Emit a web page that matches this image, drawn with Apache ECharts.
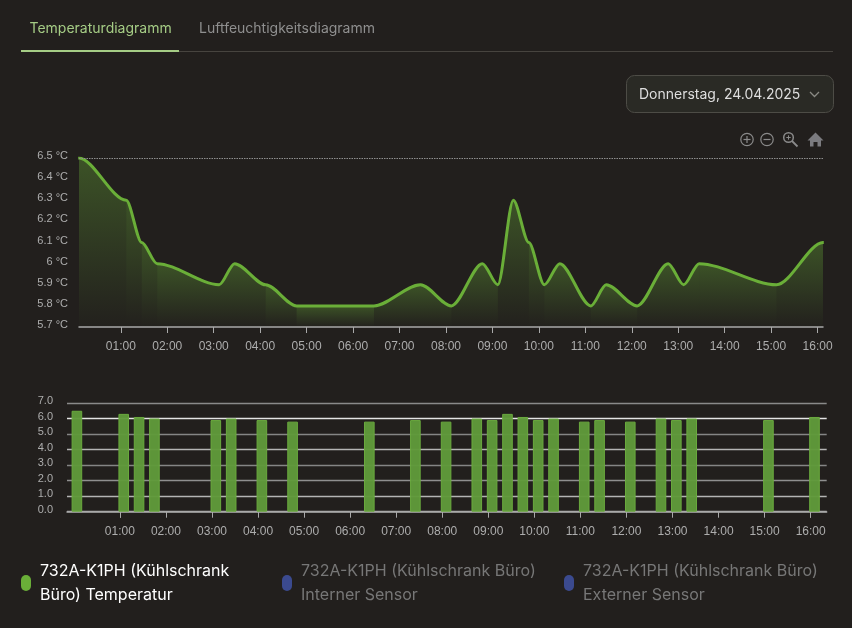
<!DOCTYPE html>
<html><head><meta charset="utf-8">
<style>html,body{margin:0;padding:0;background:#221f1d}#c{width:852px;height:628px}</style>
<script src="https://cdn.jsdelivr.net/npm/echarts@6/dist/echarts.min.js"></script>
</head><body><div id="c"></div>
<script>
const timeLabels = ['00:06','01:07','01:27','01:47','03:07','03:27','04:07','04:47','06:27','07:27','08:07','08:47','09:07','09:27','09:47','10:07','10:27','11:07','11:27','12:07','12:47','13:07','13:27','15:07','16:07'];
const temperatures = [6.5,6.3,6.1,6.0,5.9,6.0,5.9,5.8,5.8,5.9,5.8,6.0,5.9,6.3,6.1,5.9,6.0,5.8,5.9,5.8,6.0,5.9,6.0,5.9,6.1];
const shadeBreaks = [0,1,2,3,6,7,8,10,12,14,15,17,19,22,23,24];
const hourTicks = [1,2,3,4,5,6,7,8,9,10,11,12,13,14,15,16];
const barShiftMinutes = 2;
const seriesNames = ['732A-K1PH (Kühlschrank\nBüro) Temperatur','732A-K1PH (Kühlschrank Büro)\nInterner Sensor','732A-K1PH (Kühlschrank Büro)\nExterner Sensor'];
const tabLabels = ['Temperaturdiagramm','Luftfeuchtigkeitsdiagramm'];
const dateLabel = 'Donnerstag, 24.04.2025';

const GREEN='#6aae38', BLUE='#3b4a8f', BG='#221f1d', AXIS='#a9a9a9', LABEL='#adadad', SMOOTH=0.3;
const at=(h,m)=>new Date(2025,3,24,h,m).getTime();
const times=timeLabels.map(s=>{const p=s.split(':');return at(+p[0],+p[1]);});
const ticks=hourTicks.map(h=>at(h,0));
const pad=n=>String(n).padStart(2,'0');
const fmt=v=>{const d=new Date(v);return (d.getMinutes()===0&&d.getDate()===24&&d.getHours()>0)?pad(d.getHours())+':00':'';};
const Y_MIN=5.7;
const bands=shadeBreaks.slice(0,-1).map((s,i)=>[times[s],temperatures[s],s,shadeBreaks[i+1]]);
const n=times.length;
// the first and last readings are repeated just outside the clipped axis so the curve ends level
const linePoints=[[times[0]-60000,temperatures[0]]].concat(times.map((t,i)=>[t,temperatures[i]]),[[times[n-1]+60000,temperatures[n-1]]]);

const capsule='path://M5,0 A5,5 0 0 1 10,5 L10,11 A5,5 0 0 1 0,11 L0,5 A5,5 0 0 1 5,0 Z';
function legendAt(name,left,color){
  return {show:true,data:[name],left:left,top:559,padding:0,itemWidth:10,itemHeight:16,selectedMode:false,icon:capsule,
    textStyle:{color:color,fontFamily:'Inter',fontSize:16,lineHeight:24,padding:[0,0,0,4]}};
}
function timeAxis(idx,min,max){
  return {type:'time',gridIndex:idx,min:min,max:max,minInterval:3600000,maxInterval:3600000,
    axisLine:{show:true,lineStyle:{color:AXIS,width:1.5}},
    axisTick:{show:true,length:6,customValues:ticks,lineStyle:{color:AXIS,width:1}},
    axisLabel:{formatter:fmt,showMinLabel:false,showMaxLabel:false,hideOverlap:false,color:LABEL,fontFamily:'Liberation Sans',fontSize:12,margin:14},
    splitLine:{show:false}};
}
function renderBand(params,api){
  const s=api.value(2),e=api.value(3);
  let d='';
  for(let i=s;i<e;i++){
    const a=api.coord([times[i],temperatures[i]]),b=api.coord([times[i+1],temperatures[i+1]]);
    if(i===s)d+='M'+a[0]+' '+a[1];
    const mx=(b[0]-a[0])*SMOOTH;
    d+='C'+(a[0]+mx)+' '+a[1]+' '+(b[0]-mx)+' '+b[1]+' '+b[0]+' '+b[1];
  }
  const x0=api.coord([times[s],Y_MIN]),x1=api.coord([times[e],Y_MIN]);
  d+='L'+x1[0]+' '+x1[1]+'L'+x0[0]+' '+x0[1]+'Z';
  return {type:'path',shape:{pathData:d},style:{fill:new echarts.graphic.LinearGradient(0,0,0,1,[
    {offset:0,color:'rgba(106,174,56,0.36)'},{offset:1,color:'rgba(106,174,56,0.01)'}]),stroke:null}};
}
const iconColor='#8a8a8a';
const graphics=[
  {type:'text',left:29.5,top:22,style:{text:tabLabels[0],font:'14px Inter',fill:'#a5cc85'}},
  {type:'text',left:199,top:22,style:{text:tabLabels[1],font:'14px Inter',fill:'#8f8f8f'}},
  {type:'rect',shape:{x:21,y:51,width:812,height:1},style:{fill:'#47443f'}},
  {type:'rect',shape:{x:21,y:50,width:158,height:2},style:{fill:'#a5cc85'}},
  {type:'rect',shape:{x:626.5,y:75.5,width:207,height:37,r:8},style:{fill:'#2a2a25',stroke:'#4d4c46',lineWidth:1}},
  {type:'text',left:639,top:88,style:{text:dateLabel,font:'14px Inter',fill:'#dedede'}},
  {type:'polyline',shape:{points:[[810,92],[814.5,96.5],[819,92]]},style:{stroke:'#8a8a84',lineWidth:1.3,fill:null}},
  {type:'circle',shape:{cx:747,cy:139.5,r:6.2},style:{stroke:iconColor,lineWidth:1.2,fill:null}},
  {type:'line',shape:{x1:743.5,y1:139.5,x2:750.5,y2:139.5},style:{stroke:iconColor,lineWidth:1.2}},
  {type:'line',shape:{x1:747,y1:136,x2:747,y2:143},style:{stroke:iconColor,lineWidth:1.2}},
  {type:'circle',shape:{cx:767,cy:139.5,r:6.2},style:{stroke:iconColor,lineWidth:1.2,fill:null}},
  {type:'line',shape:{x1:763.5,y1:139.5,x2:770.5,y2:139.5},style:{stroke:iconColor,lineWidth:1.2}},
  {type:'circle',shape:{cx:788.5,cy:137.5,r:4.8},style:{stroke:iconColor,lineWidth:1.5,fill:null}},
  {type:'line',shape:{x1:792,y1:141,x2:797.5,y2:146.5},style:{stroke:iconColor,lineWidth:1.8}},
  {type:'line',shape:{x1:786.3,y1:137.5,x2:790.7,y2:137.5},style:{stroke:iconColor,lineWidth:1}},
  {type:'line',shape:{x1:788.5,y1:135.3,x2:788.5,y2:139.7},style:{stroke:iconColor,lineWidth:1}},
  {type:'polygon',shape:{points:[[815.5,132.5],[823.5,140.5],[821,140.5],[821,146.5],[817.5,146.5],[817.5,142],[813.5,142],[813.5,146.5],[810,146.5],[810,140.5],[807.5,140.5]]},style:{fill:'#7b7b7f'}}
];
const option={
  backgroundColor:BG,animation:false,
  legend:[legendAt(seriesNames[0],21,'#ffffff'),legendAt(seriesNames[1],282,'#777777'),legendAt(seriesNames[2],564,'#777777')],
  grid:[{left:79,right:29,top:158,height:169},{left:67,right:25.3,top:403,height:108.7}],
  xAxis:[timeAxis(0,at(0,6),at(16,7)),timeAxis(1,new Date(2025,3,23,23,58).getTime(),at(16,14))],
  yAxis:[
    {type:'value',gridIndex:0,min:Y_MIN,max:6.5,interval:0.1,axisLine:{show:false},axisTick:{show:false},splitLine:{show:false},
     axisLabel:{color:LABEL,fontFamily:'Liberation Sans',fontSize:11,margin:11,verticalAlign:'bottom',lineHeight:4,formatter:v=>(+v.toFixed(1))+' °C'}},
    {type:'value',gridIndex:1,min:0,max:7,interval:1,axisLine:{show:false},axisTick:{show:false},
     splitLine:{show:true,lineStyle:{width:1.4,color:['#a9a9a9','#b4b4b4','#8f8f8f','#858585','#b4b4b4','#858585','#e4e4e4','#8a8a8a']}},
     axisLabel:{color:LABEL,fontFamily:'Liberation Sans',fontSize:11,margin:14,verticalAlign:'bottom',lineHeight:4,formatter:v=>v.toFixed(1)}}
  ],
  series:[
    {type:'custom',name:'Fläche',xAxisIndex:0,yAxisIndex:0,z:1,silent:true,renderItem:renderBand,data:bands,encode:{x:0,y:1}},
    {type:'line',name:seriesNames[0],xAxisIndex:0,yAxisIndex:0,z:3,smooth:SMOOTH,smoothMonotone:'x',showSymbol:false,
     lineStyle:{color:GREEN,width:3},itemStyle:{color:GREEN},
     data:linePoints,
     markLine:{silent:true,symbol:'none',label:{show:false},lineStyle:{color:'#8f8f8f',type:[1.5,1],width:1.2},data:[{yAxis:6.5}]}},
    {type:'bar',name:'Balken',xAxisIndex:1,yAxisIndex:1,z:2,barWidth:10.6,
     itemStyle:{color:'rgba(96,154,58,0.96)',borderColor:'#6aaa3e',borderWidth:1},
     data:times.map((t,i)=>[t-barShiftMinutes*60000,temperatures[i]])},
    {type:'line',name:seriesNames[1],xAxisIndex:0,yAxisIndex:0,itemStyle:{color:BLUE},data:[]},
    {type:'line',name:seriesNames[2],xAxisIndex:0,yAxisIndex:0,itemStyle:{color:BLUE},data:[]}
  ],
  graphic:graphics
};
echarts.init(document.getElementById('c'),null,{renderer:'canvas'}).setOption(option);
</script></body></html>
